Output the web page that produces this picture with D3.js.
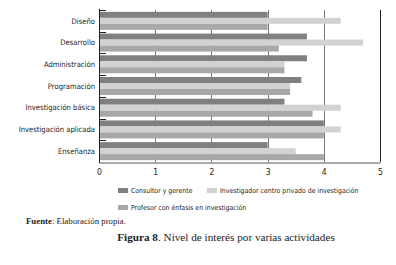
<!DOCTYPE html>
<html lang="es">
<head>
  <meta charset="UTF-8"/>
  <title>Figura 8</title>
  <script src="https://d3js.org/d3.v7.min.js"></script>
  <style>
    body { margin: 0; background: #fff; }
    .lab { font-family: "Liberation Sans Narrow", "DejaVu Sans Condensed", sans-serif; fill: #222; }
    .cap { font-family: "Liberation Serif", "DejaVu Serif", serif; fill: #222; }
  </style>
</head>
<body>
<script>
  var w = 396, h = 265;

  var categories = ["Diseño", "Desarrollo", "Administración", "Programación",
                    "Investigación básica", "Investigación aplicada", "Enseñanza"];
  var series = ["Consultor y gerente", "Investigador centro privado de investigación",
                "Profesor con énfasis en investigación"];
  var consultor  = [3.0, 3.7, 3.7, 3.6, 3.3, 4.0, 3.0];
  var investigador = [4.3, 4.7, 3.3, 3.4, 4.3, 4.3, 3.5];
  var profesor   = [3.0, 3.2, 3.3, 3.4, 3.8, 4.0, 4.0];
  var xTicks = [0, 1, 2, 3, 4, 5];
  var colors = ["#808080", "#d2d2d2", "#a8a8a8"];

  var values = [consultor, investigador, profesor];

  var svg = d3.select("body").append("svg")
    .attr("width", w).attr("height", h);

  var mLeft = 99, mRight = 380, mTop = 10, mBottom = 162;

  var x = d3.scaleLinear().domain([0, 5]).range([mLeft, mRight]);
  var y0 = d3.scaleBand().domain(categories).range([mTop, mBottom])
    .paddingInner(0.17).paddingOuter(0.085);
  var y1 = d3.scaleBand().domain(d3.range(series.length)).range([0, y0.bandwidth()]);

  // gridlines
  svg.append("g").selectAll("line")
    .data(xTicks.filter(function(d) { return d > 0 && d < 5; }))
    .enter().append("line")
    .attr("x1", function(d) { return Math.round(x(d)) + 0.5; })
    .attr("x2", function(d) { return Math.round(x(d)) + 0.5; })
    .attr("y1", mTop).attr("y2", mBottom)
    .attr("stroke", "#777").attr("stroke-width", 1);

  // bars
  var groups = svg.append("g").selectAll("g")
    .data(categories).enter().append("g")
    .attr("transform", function(d) { return "translate(0," + y0(d) + ")"; });

  groups.selectAll("rect")
    .data(function(d, i) { return values.map(function(v, s) { return { s: s, v: v[i] }; }); })
    .enter().append("rect")
    .attr("x", x(0))
    .attr("y", function(d) { return y1(d.s); })
    .attr("width", function(d) { return x(d.v) - x(0); })
    .attr("height", y1.bandwidth())
    .attr("fill", function(d) { return colors[d.s]; });

  // right border at 5
  svg.append("line")
    .attr("x1", Math.round(x(5)) + 0.5).attr("x2", Math.round(x(5)) + 0.5)
    .attr("y1", mTop).attr("y2", mBottom)
    .attr("stroke", "#222");

  // bottom axis
  var xAxis = d3.axisBottom(x).tickValues(xTicks).tickFormat(d3.format("d"))
    .tickSize(0).tickPadding(6);
  var gx = svg.append("g").attr("transform", "translate(0," + (mBottom + 0.5) + ")").call(xAxis);
  gx.select(".domain").attr("stroke", "#555");
  gx.selectAll("text").attr("class", "lab").attr("font-size", 8.5).attr("fill", "#222");

  // left axis with boundary ticks
  svg.append("line")
    .attr("x1", mLeft + 0.5).attr("x2", mLeft + 0.5)
    .attr("y1", mTop - 1).attr("y2", mBottom + 1)
    .attr("stroke", "#222");

  var step = y0.step();
  svg.append("g").selectAll("line")
    .data(categories).enter().append("line")
    .attr("x1", mLeft).attr("x2", mLeft + 7)
    .attr("y1", function(d) { return Math.round(y0(d) - step * 0.085) + 0.5; })
    .attr("y2", function(d) { return Math.round(y0(d) - step * 0.085) + 0.5; })
    .attr("stroke", "#222");

  svg.append("g").selectAll("text")
    .data(categories).enter().append("text")
    .attr("class", "lab")
    .attr("x", mLeft - 4)
    .attr("y", function(d) { return y0(d) + y0.bandwidth() / 2; })
    .attr("dy", "0.35em")
    .attr("text-anchor", "end")
    .attr("font-size", 7.6)
    .text(function(d) { return d; });

  // legend
  var legendPos = [[118, 188], [207, 188], [118, 205]];
  var legend = svg.append("g").selectAll("g")
    .data(series).enter().append("g")
    .attr("transform", function(d, i) { return "translate(" + legendPos[i][0] + "," + legendPos[i][1] + ")"; });
  legend.append("rect")
    .attr("width", 10).attr("height", 5)
    .attr("fill", function(d, i) { return colors[i]; });
  legend.append("text")
    .attr("class", "lab")
    .attr("x", 13).attr("y", 2.5).attr("dy", "0.35em")
    .attr("font-size", 6.9)
    .text(function(d) { return d; });

  // captions
  var fuente = svg.append("text").attr("class", "cap")
    .attr("x", 26).attr("y", 224).attr("font-size", 8.8);
  fuente.append("tspan").attr("font-weight", "bold").text("Fuente");
  fuente.append("tspan").text(": Elaboración propia.");

  var fig = svg.append("text").attr("class", "cap")
    .attr("x", 226).attr("y", 241).attr("text-anchor", "middle").attr("font-size", 11.2);
  fig.append("tspan").attr("font-weight", "bold").text("Figura 8");
  fig.append("tspan").text(". Nivel de interés por varias actividades");
</script>
</body>
</html>
